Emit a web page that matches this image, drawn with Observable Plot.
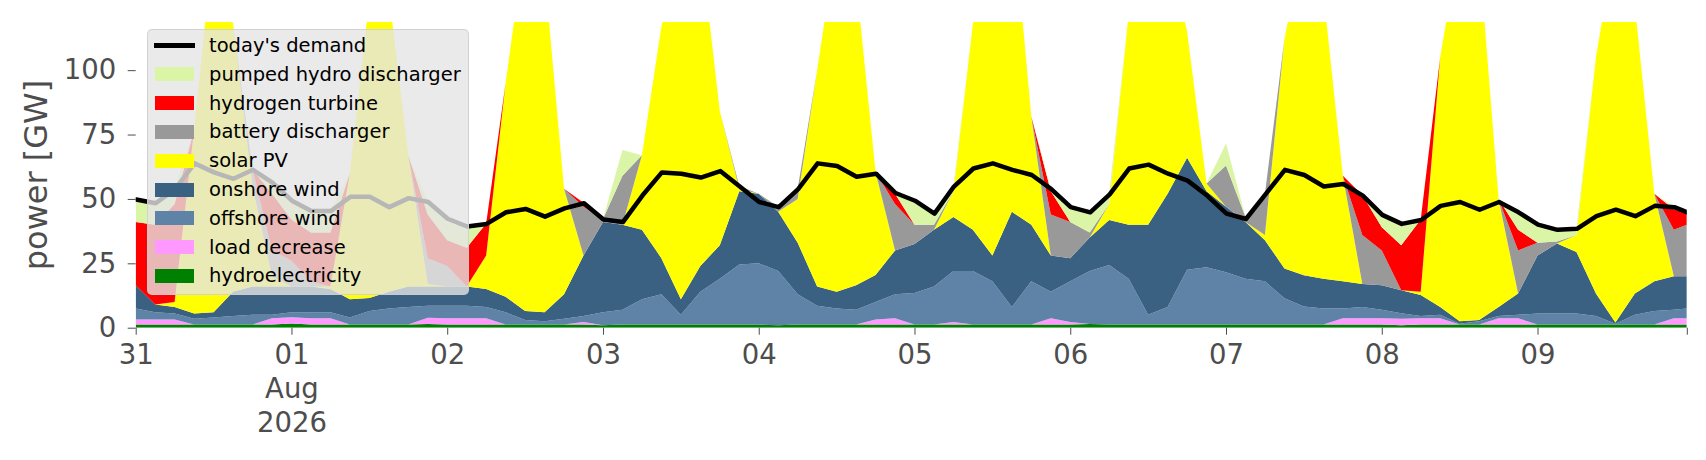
<!DOCTYPE html>
<html>
<head>
<meta charset="utf-8">
<script src="https://cdn.jsdelivr.net/npm/d3@7"></script>
<script src="https://cdn.jsdelivr.net/npm/@observablehq/plot@0.6"></script>
<style>
  html, body { margin: 0; padding: 0; background: #fff; }
  #wrap { position: relative; width: 1706px; height: 460px; font-family: "DejaVu Sans", sans-serif; }
  #legend { position: absolute; left: 147px; top: 29px; width: 322px; height: 266px;
            background: rgba(229,229,229,0.8); border: 1px solid rgba(204,204,204,0.8);
            border-radius: 5px; box-sizing: border-box; }
  .lrow { position: absolute; left: 0; height: 28.8px; display: flex; align-items: center; }
  .lsw { position: absolute; left: 7px; width: 39px; height: 14px; }
  .lline { position: absolute; left: 6px; width: 41px; height: 4.5px; background: #000; }
  .ltx { position: absolute; left: 61px; font-size: 19.5px; color: #000; white-space: nowrap; line-height: 1; }
  #ylabel { position: absolute; left: 36px; top: 175px; transform: translate(-50%, -50%) rotate(-90deg);
            font-size: 32px; color: #4d4d4d; white-space: nowrap; line-height: 1; }
</style>
</head>
<body>
<div id="wrap"><div id="chart"></div><div id="legend"></div><div id="ylabel"></div></div>
<script>
// hours after 2026-07-31 00:00 UTC
const hours = [0,3,6,9,12,15,18,21,24,27,30,33,36,39,42,45,48,51,54,57,60,63,66,69,72,75,78,81,84,87,90,93,96,99,102,105,108,111,114,117,120,123,126,129,132,135,138,141,144,147,150,153,156,159,162,165,168,171,174,177,180,183,186,189,192,195,198,201,204,207,210,213,216,219,222,225,228,231,234,237,239];

const demand = [50,48.5,54,64,60.5,58,61.5,56.5,49.5,45.5,
  45.5,51,51,47,50.5,49,42.5,39.5,40.5,45,
  46.3,43.3,46.5,48.5,42.2,41.2,51.5,60.5,60,58.5,
  61,55,49,47,54,64,63,58.8,60,52.5,
  49.5,44.5,55,62,64,61.5,59.5,54,47,45,
  52,62,63.5,60,57.3,51.5,44.5,42.4,52,61.5,
  59.5,55,56,51.5,44,40.5,42,47.5,49,46,
  49,45,40.2,38.2,38.6,43.5,46,43.5,47.5,47,
  45];

const hydroelectricity = [1.2,1.2,1.2,1.2,1.2,1.2,1.2,1.2,1.6,1.2,
  1.2,1.2,1.2,1.2,1.2,1.4,1.2,1.2,1.2,1.2,
  1.2,1.2,1.2,1.2,1.0,1.2,1.2,1.2,1.2,1.2,
  1.2,1.2,1.2,1.0,1.2,1.2,1.2,1.2,1.2,1.2,
  1.2,1.2,1.2,1.2,1.2,1.2,1.2,1.2,1.2,1.4,
  1.2,1.2,1.2,1.2,1.2,1.2,1.2,1.2,1.2,1.2,
  1.2,1.2,1.2,1.2,1.2,1.0,1.2,1.2,1.2,1.2,
  1.2,1.2,1.2,1.2,1.2,1.2,1.2,1.2,1.2,1.2,
  1.2];

const loadDecrease = [2,2,2,0,0,0,0,2.5,2.5,2.5,
  2.5,0,0,0,0,2.5,2.5,2.5,2.5,0,
  0,0,0,1,0,0,0,0,0,0,
  0,0,0,0,0,0,0,0,2,2.5,
  0,0,1,0,0,0,0,2.5,1,0,
  0,0,0,0,0,0,0,0,0,0,
  0,0,2.5,2.5,2.5,2.5,2.5,2.5,0,0,
  2.5,2.5,0,0,0,0,0,0,0,2.5,
  2.5];

const offshoreWind = [4.3,2.8,2.3,2.3,2.8,3.3,3.8,1.3,1.9,2.3,
  2.3,2.8,5.3,6.3,6.8,4.6,4.8,4.8,4.3,4.8,
  1.8,1.3,2.3,2.3,5,5.8,9.8,11.8,3.8,12.8,
  17.8,23.3,23.8,21,11.8,7.3,6.3,5.8,6.8,9.3,
  12.3,14.8,19.8,20.8,16.8,6.8,16.8,10.3,15.8,20.6,
  23.1,17.8,3.8,6.8,21.3,22.3,20.3,17.8,16.8,10.2,
  7,6.3,3.8,4.3,3.3,2.1,0.8,1.3,0.3,1.3,
  0.8,1.3,4.3,4.3,4.3,3.3,0.3,3.8,5.3,3.3,
  3.8];

const onshoreWind = [9,3,2.5,2,2,9.5,11,11,10,10,
  9,7,5,6.5,8,7.5,7.5,7.5,7,6,
  3.5,3.5,9.5,23.5,35,33,27,14,6,10,
  13,28.5,27,23,20,7.5,6.5,9.5,10.5,17,
  19,22,21,16,10,37,22,14,9,13,
  17.5,21,35,44,43.5,29.5,25.5,22,16,11.6,
  12.2,11.5,10.5,9,9.5,8.9,8.2,3,1,0.5,
  3.5,8.3,22.5,27.2,23.9,8.8,0.5,8.3,11.5,13,
  12.5];

const solarPV = [0,0,2,71.5,144,104,39,4,0,0,
  1,49,116.5,116,51,1,0,0,13,83,
  143.5,132,41,0,0,0,29,90,139,126,
  52,1,0,0,17,84,136,118.5,40,0,
  0,0,10,80,122,120,42,0,0,0,
  6.2,82,110,98,49,3,0,0,2,89,
  129.6,111,41,0,0,0,1.3,97,147.5,142,
  42,0,0,0,6.6,91.7,148,111.7,34,0,
  0];

const batteryDischarger = [0,0,0,0,0,0,6.5,10,10,2,
  0,0,0,0,0,10,8,0,0,0,
  0,0,0,19,1.2,19,0,0,0,0,
  0,1,0,2,4,0,0,0,0,18,
  7.5,2,0,0,0,0,0,16,14,2,
  0,0,0,0,0,0,16,2,16,0,
  0,0,0,19,13.5,0,0,0,0,0,
  0,16.7,5,0.8,0,0,0,0,0,18,
  20];

const hydrogenTurbine = [24.5,31,38,0,0,0,0,22,16,19,
  21,0,0,0,0,17,10,15,12.5,0,
  0,0,0,1.5,0,0,0,0,0,0,
  0,0,0,0,0,0,0,0,0,4,
  0,0,0,0,0,0,0,9,0,0,
  0,0,0,0,0,0,0,0,0,0,
  0,0,0,15.5,9,17.5,28,0,0,0,
  0,8,0,0,0,0,0,0,0,8,
  4.4];

const pumpedHydroDischarger = [8.5,8.5,6,0,0,0,0,4.5,7.5,8.5,
  8.5,0,0,0,0,5,8.5,8.5,0,0,
  0,0,0,0,0,10,0,0,0,0,
  0,0,0,0,0,0,0,0,0,0.5,
  9.5,4.5,2,0,0,0,0,1,6,8,
  4,0,0,0,0,0,8.5,0,0,0,
  0,0,0,0,5,8.5,0,0,0,0,
  0,7,7.2,4.7,2.6,0,0,0,0,1,
  0.6];

// stack order from the bottom up
const carriers = ["hydroelectricity","load decrease","offshore wind","onshore wind","solar PV","battery discharger","hydrogen turbine","pumped hydro discharger"];
const carrierColors = ["#008000","#ff99ff","#5e83a7","#3b6182","#ffff00","#999999","#ff0000","#daf5a6"];

// legend (top to bottom)
const legendLabels = ["today's demand","pumped hydro discharger","hydrogen turbine","battery discharger","solar PV","onshore wind","offshore wind","load decrease","hydroelectricity"];
const legendColors = ["#000000","#daf5a6","#ff0000","#999999","#ffff00","#3b6182","#5e83a7","#ff99ff","#008000"];

const yLabel = "power [GW]";
const yTicks = [0,25,50,75,100];
const xTickDays = [0,1,2,3,4,5,6,7,8,9];
const xTickLabels = ["31","01\nAug\n2026","02","03","04","05","06","07","08","09"];

const start = Date.UTC(2026, 6, 31);
const time = hours.map(h => new Date(start + h * 3600000));
const seriesList = [hydroelectricity, loadDecrease, offshoreWind, onshoreWind, solarPV, batteryDischarger, hydrogenTurbine, pumpedHydroDischarger];
const rows = [];
carriers.forEach((c, k) => seriesList[k].forEach((v, i) => rows.push({time: time[i], carrier: c, value: v})));
const demandRows = time.map((t, i) => ({time: t, value: demand[i]}));

const labelMap = new Map();
xTickDays.forEach((d, i) => labelMap.set(start + d * 86400000, xTickLabels[i]));
const xTicks = xTickDays.map(d => new Date(start + d * 86400000)).concat([time[time.length - 1]]);

const chart = Plot.plot({
  width: 1706,
  height: 460,
  marginLeft: 135.7,
  marginRight: 19.2,
  marginTop: 22,
  marginBottom: 132.3,
  style: {fontFamily: "DejaVu Sans", background: "white"},
  x: {type: "utc", domain: [time[0], time[time.length - 1]]},
  y: {domain: [0, 118.7]},
  color: {domain: carriers, range: carrierColors},
  marks: [
    Plot.areaY(rows, {x: "time", y: "value", fill: "carrier", order: carriers, curve: "linear", clip: true}),
    Plot.line(demandRows, {x: "time", y: "value", stroke: "black", strokeWidth: 4.5, clip: true}),
    Plot.axisY({ticks: yTicks, tickSize: 8, tickPadding: 12, fontSize: 27.5, color: "#4d4d4d", label: null}),
    Plot.axisX({ticks: xTicks, tickFormat: d => labelMap.get(+d) ?? "", tickSize: 7, tickPadding: 5,
                fontSize: 27.5, lineHeight: 1.23, color: "#4d4d4d", label: null})
  ]
});
document.getElementById("chart").appendChild(chart);
document.getElementById("ylabel").textContent = yLabel;

const legend = document.getElementById("legend");
legendLabels.forEach((lab, i) => {
  const row = document.createElement("div");
  row.className = "lrow";
  row.style.top = (1.3 + i * 28.8) + "px";
  row.style.width = "100%";
  const sw = document.createElement("div");
  if (i === 0) { sw.className = "lline"; sw.style.top = "12.2px"; }
  else { sw.className = "lsw"; sw.style.background = legendColors[i]; sw.style.top = "7.4px"; }
  const tx = document.createElement("div");
  tx.className = "ltx";
  tx.textContent = lab;
  row.appendChild(sw);
  row.appendChild(tx);
  legend.appendChild(row);
});
</script>
</body>
</html>
